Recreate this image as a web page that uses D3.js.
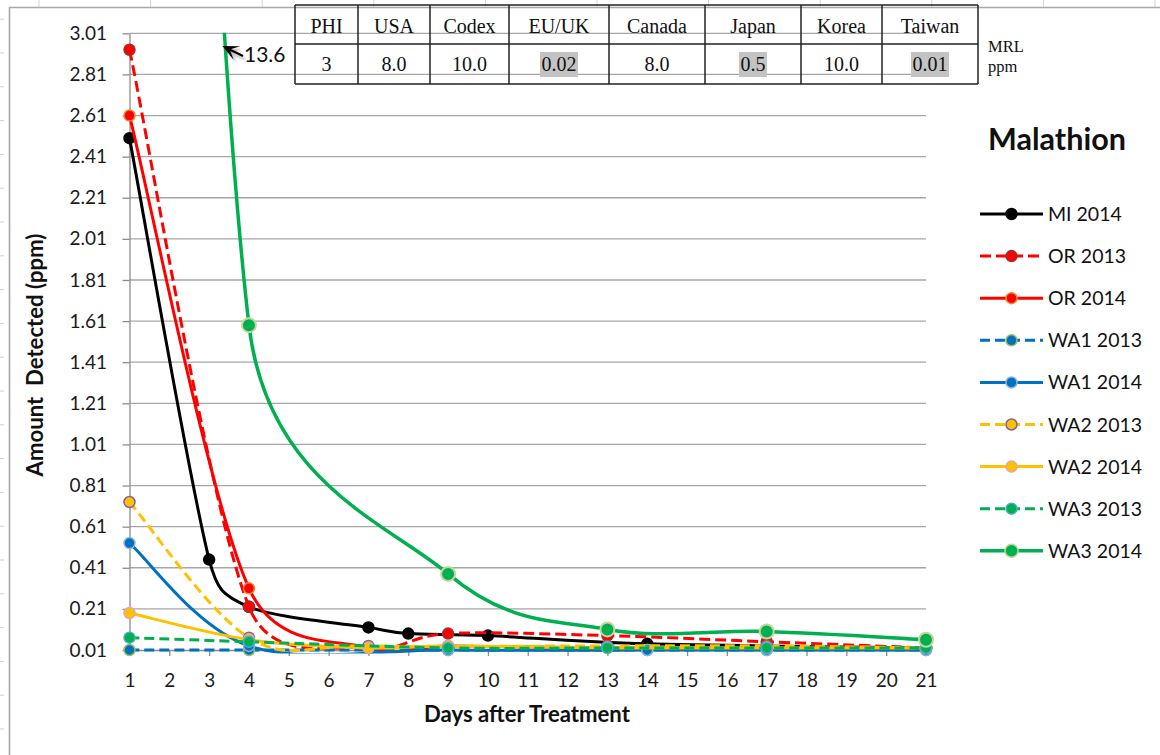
<!DOCTYPE html>
<html><head><meta charset="utf-8">
<script src="https://cdn.jsdelivr.net/npm/d3@7/dist/d3.min.js"></script>
<style>body{margin:0;background:#fff;} svg{display:block;}</style>
</head><body>
<svg id="chart" width="1160" height="755"></svg>
<script>
// ---------------- DATA ----------------
const yTicks = [0.01,0.21,0.41,0.61,0.81,1.01,1.21,1.41,1.61,1.81,2.01,2.21,2.41,2.61,2.81,3.01];
const xTicks = [1,2,3,4,5,6,7,8,9,10,11,12,13,14,15,16,17,18,19,20,21];

const seriesNames = ["MI 2014","OR 2013","OR 2014","WA1 2013","WA1 2014","WA2 2013","WA2 2014","WA3 2013","WA3 2014"];

const mi2014Days  = [1,3,4,7,8,10,14,21];
const mi2014Vals  = [2.50,0.45,0.22,0.12,0.09,0.08,0.04,0.02];
const or2013Days  = [1,4,7,9,13,17,21];
const or2013Vals  = [2.93,0.22,0.02,0.09,0.08,0.05,0.02];
const or2014Days  = [1,4,7,9,13,17,21];
const or2014Vals  = [2.61,0.31,0.02,0.03,0.02,0.02,0.02];
const wa12013Days = [1,4,9,14,17,21];
const wa12013Vals = [0.01,0.01,0.01,0.01,0.01,0.01];
const wa12014Days = [1,4,9,14,17,21];
const wa12014Vals = [0.53,0.03,0.01,0.01,0.01,0.01];
const wa22013Days = [1,4,7,13,17,21];
const wa22013Vals = [0.73,0.07,0.03,0.03,0.03,0.02];
const wa22014Days = [1,4,7,9,13,17,21];
const wa22014Vals = [0.19,0.06,0.02,0.03,0.02,0.02,0.02];
const wa32013Days = [1,4,9,13,17,21];
const wa32013Vals = [0.07,0.05,0.02,0.02,0.02,0.02];
const wa32014Days = [1,4,9,13,17,21];
const wa32014Vals = [13.6,1.59,0.38,0.11,0.10,0.06];

const offScaleLabel = "13.6";

const tableHeaders = ["PHI","USA","Codex","EU/UK","Canada","Japan","Korea","Taiwan"];
const tableValues  = ["3","8.0","10.0","0.02","8.0","0.5","10.0","0.01"];
const tableShaded  = [false,false,false,true,false,true,false,true];
const tableSideLabel = ["MRL","ppm"];
const chartTitle = "Malathion";
const xTitle = "Days after Treatment";
const yTitle = "Amount  Detected (ppm)";

// ---------------- STYLES ----------------
const styles = [
  {line:"#000000", dash:null, fill:"#000000", stroke:"#000000", r:5.5, sw:3},
  {line:"#ff0000", dash:"11,5", fill:"#ff0000", stroke:"#a0302e", r:5.5, sw:3},
  {line:"#ff0000", dash:null, fill:"#ff0000", stroke:"#e98a2e", r:5.5, sw:3},
  {line:"#0070c0", dash:"10,5", fill:"#0070c0", stroke:"#9bbb59", r:5.5, sw:3},
  {line:"#0070c0", dash:null, fill:"#0070c0", stroke:"#8db3e2", r:5.5, sw:3},
  {line:"#ffc000", dash:"10,5", fill:"#ffc000", stroke:"#7f63a1", r:5.5, sw:3},
  {line:"#ffc000", dash:null, fill:"#ffc000", stroke:"#e6a6a6", r:5.5, sw:3},
  {line:"#00b050", dash:"10,5", fill:"#00b050", stroke:"#4bacc6", r:5.5, sw:3},
  {line:"#00b050", dash:null, fill:"#00b050", stroke:"#c4d79b", r:7, sw:3.5}
];
const dayArrays = [mi2014Days,or2013Days,or2014Days,wa12013Days,wa12014Days,wa22013Days,wa22014Days,wa32013Days,wa32014Days];
const valArrays = [mi2014Vals,or2013Vals,or2014Vals,wa12013Vals,wa12014Vals,wa22013Vals,wa22014Vals,wa32013Vals,wa32014Vals];
const series = seriesNames.map((n,i)=>({name:n, pts:dayArrays[i].map((d,j)=>({d, v:valArrays[i][j]})), st:styles[i]}));

// ---------------- LAYOUT ----------------
const L = {x0:129.5, x1:926, yTop:33.3, yBot:650};
const svg = d3.select("#chart");
const x = d3.scaleLinear().domain([1,21]).range([L.x0, L.x1]);
const y = d3.scaleLinear().domain([0.01,3.01]).range([L.yBot, L.yTop]);
const sansFont = "Lato, 'Open Sans', sans-serif";
const serifFont = "'Liberation Serif', 'DejaVu Serif', serif";

const defs = svg.append("defs");
defs.append("clipPath").attr("id","plotclip").append("rect")
  .attr("x", L.x0-10).attr("y", L.yTop-0.5).attr("width", L.x1-L.x0+20).attr("height", L.yBot-L.yTop+4);
const f = defs.append("filter").attr("id","shadow").attr("x","-50%").attr("y","-50%").attr("width","200%").attr("height","200%");
f.append("feGaussianBlur").attr("stdDeviation",1.3);

// spreadsheet background lines
const colLines = d3.range(0, 11).map(i => 39 + i*111.6);
svg.append("g").selectAll("line").data(colLines).join("line")
  .attr("x1",d=>d).attr("x2",d=>d).attr("y1",0).attr("y2",7)
  .attr("stroke","#d4d4d4").attr("stroke-width",1);
const rowLines = d3.range(-6, 16).map(i => 222 + i*33.8);
svg.append("g").selectAll("line").data(rowLines).join("line")
  .attr("x1",0).attr("x2",4).attr("y1",d=>d).attr("y2",d=>d)
  .attr("stroke","#cfcfcf").attr("stroke-width",1);

// chart border (left + top)
svg.append("path").attr("d","M9.5,755 L9.5,7.5 L1160,7.5")
  .attr("fill","none").attr("stroke","#a9a9a9").attr("stroke-width",1.6);

// gridlines
svg.append("g").selectAll("line").data(yTicks.slice(1)).join("line")
  .attr("x1",L.x0).attr("x2",L.x1).attr("y1",d=>y(d)).attr("y2",d=>y(d))
  .attr("stroke","#a6a6a6").attr("stroke-width",1.3);

// axes
const gy = svg.append("g").attr("transform",`translate(${L.x0},0)`)
  .call(d3.axisLeft(y).tickValues(yTicks).tickSize(7).tickSizeOuter(0).tickPadding(15.5).tickFormat(d3.format(".2f")));
const gx = svg.append("g").attr("transform",`translate(0,${L.yBot})`)
  .call(d3.axisBottom(x).tickValues(xTicks).tickSize(6).tickSizeOuter(0).tickFormat(d3.format("d")));
[gy,gx].forEach(g=>{
  g.select(".domain").attr("stroke","#8c8c8c").attr("stroke-width",1.3);
  g.selectAll(".tick line").attr("stroke","#8c8c8c").attr("stroke-width",1.3);
  g.selectAll("text").attr("font-family",sansFont).attr("font-size",19).attr("fill","#1a1a1a");
});
gx.selectAll("text").attr("y",37).attr("dy",0);

// table
const colEdges = [295,358,430,509,609,705,801,882,978];
const rowEdges = [5,44,84];
const tg = svg.append("g");
tableValues.forEach((v,i)=>{
  const cx = (colEdges[i]+colEdges[i+1])/2;
  const t = tg.append("text").attr("x",cx).attr("y",71).attr("text-anchor","middle")
    .attr("font-family",serifFont).attr("font-size",20).attr("fill","#111").text(v);
  if(tableShaded[i]){
    const bb = t.node().getBBox();
    tg.insert("rect","text").attr("x",bb.x-1.5).attr("y",52).attr("width",bb.width+3).attr("height",25).attr("fill","#c3c3c3");
  }
});
tableHeaders.forEach((h,i)=>{
  const cx = (colEdges[i]+colEdges[i+1])/2;
  tg.append("text").attr("x",cx).attr("y",33).attr("text-anchor","middle")
    .attr("font-family",serifFont).attr("font-size",20).attr("fill","#111").text(h);
});
tg.selectAll("line.v").data(colEdges).join("line").attr("class","v")
  .attr("x1",d=>d).attr("x2",d=>d).attr("y1",rowEdges[0]).attr("y2",rowEdges[2])
  .attr("stroke","#222").attr("stroke-width",1.5);
tg.selectAll("line.h").data(rowEdges).join("line").attr("class","h")
  .attr("x1",colEdges[0]).attr("x2",colEdges[colEdges.length-1]).attr("y1",d=>d).attr("y2",d=>d)
  .attr("stroke","#222").attr("stroke-width",1.5);
tableSideLabel.forEach((s,i)=>{
  tg.append("text").attr("x",988).attr("y",52+i*20).attr("font-family",serifFont).attr("font-size",16.5).attr("fill","#111").text(s);
});

// Excel-like smoothing (Bezier, 1/6 tangents, arm limited to half segment)
function excelSmooth(pts){
  const p = d3.path();
  const n = pts.length;
  p.moveTo(pts[0][0], pts[0][1]);
  for(let i=0;i<n-1;i++){
    const p0 = pts[Math.max(0,i-1)], p1 = pts[i], p2 = pts[i+1], p3 = pts[Math.min(n-1,i+2)];
    const d = Math.hypot(p2[0]-p1[0], p2[1]-p1[1]);
    let ax=(p2[0]-p0[0])/6, ay=(p2[1]-p0[1])/6;
    const la=Math.hypot(ax,ay); if(la>d/2){ax*=d/2/la; ay*=d/2/la;}
    let bx=(p3[0]-p1[0])/6, by=(p3[1]-p1[1])/6;
    const lb=Math.hypot(bx,by); if(lb>d/2){bx*=d/2/lb; by*=d/2/lb;}
    p.bezierCurveTo(p1[0]+ax,p1[1]+ay,p2[0]-bx,p2[1]-by,p2[0],p2[1]);
  }
  return p.toString();
}

// series
const plot = svg.append("g");
series.forEach(s=>{
  const pts = s.pts.map(p=>[x(p.d), y(p.v)]);
  const g = plot.append("g");
  g.append("path").attr("d",excelSmooth(pts)).attr("clip-path","url(#plotclip)")
    .attr("fill","none").attr("stroke",s.st.line).attr("stroke-width",s.st.sw)
    .attr("stroke-dasharray",s.st.dash).attr("stroke-linejoin","round");
  g.selectAll("circle").data(s.pts.filter(p=>p.v<=3.01)).join("circle")
    .attr("cx",p=>x(p.d)).attr("cy",p=>y(p.v)).attr("r",s.st.r)
    .attr("fill",s.st.fill).attr("stroke",s.st.stroke).attr("stroke-width",s.st.r>6?2:1.5);
});

// off-scale annotation (arrow pointing to where WA3 2014 leaves the plot)
const tip = [222.5, 46], tail = [243, 56];
const ang = Math.atan2(tip[1]-tail[1], tip[0]-tail[0]);
const ah = (ox,oy)=>{
  const len=16, hw=7.5, notch=8;
  const c=Math.cos(ang), s=Math.sin(ang);
  const P=(u,v)=>[tip[0]+ox+u*c - v*s, tip[1]+oy+u*s + v*c];
  const pts=[P(0,0),P(-len,hw),P(-notch,0),P(-len,-hw)];
  return "M"+pts.map(p=>p.join(",")).join("L")+"Z";
};
svg.append("path").attr("d",ah(2.5,3)).attr("fill","#666").attr("opacity",0.55).attr("filter","url(#shadow)");
svg.append("line").attr("x1",tail[0]+2).attr("y1",tail[1]+3).attr("x2",tip[0]+10).attr("y2",tip[1]+8)
  .attr("stroke","#777").attr("stroke-width",2.2).attr("opacity",0.5).attr("filter","url(#shadow)");
svg.append("line").attr("x1",tail[0]).attr("y1",tail[1]).attr("x2",tip[0]+7).attr("y2",tip[1]+3.4)
  .attr("stroke","#000").attr("stroke-width",2.2);
svg.append("path").attr("d",ah(0,0)).attr("fill","#000");
svg.append("text").attr("x",244).attr("y",62).attr("font-family",sansFont).attr("font-size",21).attr("fill","#111").text(offScaleLabel);

function fit(sel, w){
  const l = sel.node().getComputedTextLength();
  sel.attr("font-size", parseFloat(sel.attr("font-size"))*w/l);
}

// titles
fit(svg.append("text").attr("x",527).attr("y",722).attr("text-anchor","middle")
  .attr("font-family",sansFont).attr("font-weight",700).attr("font-size",18).attr("fill","#111").text(xTitle), 206);
fit(svg.append("text").attr("transform","translate(43,355) rotate(-90)").attr("text-anchor","middle")
  .style("white-space","pre").attr("font-family",sansFont).attr("font-weight",700).attr("font-size",17).attr("fill","#111").text(yTitle), 243);
fit(svg.append("text").attr("x",988).attr("y",150).attr("font-family",sansFont).attr("font-weight",700)
  .attr("font-size",28).attr("fill","#111").text(chartTitle), 138);

// legend
const lg = svg.append("g");
series.forEach((s,i)=>{
  const cy = 214 + i*42.1;
  const g = lg.append("g");
  g.append("line").attr("x1",980).attr("x2",1043).attr("y1",cy).attr("y2",cy)
    .attr("stroke",s.st.line).attr("stroke-width",s.st.sw).attr("stroke-dasharray",s.st.dash);
  g.append("circle").attr("cx",1011.5).attr("cy",cy).attr("r",s.st.r>6?6.5:5.5)
    .attr("fill",s.st.fill).attr("stroke",s.st.stroke).attr("stroke-width",1.5);
  g.append("text").attr("x",1048).attr("y",cy+7).attr("font-family",sansFont).attr("font-size",19.5)
    .attr("fill","#111").text(s.name);
});
</script>
</body></html>
